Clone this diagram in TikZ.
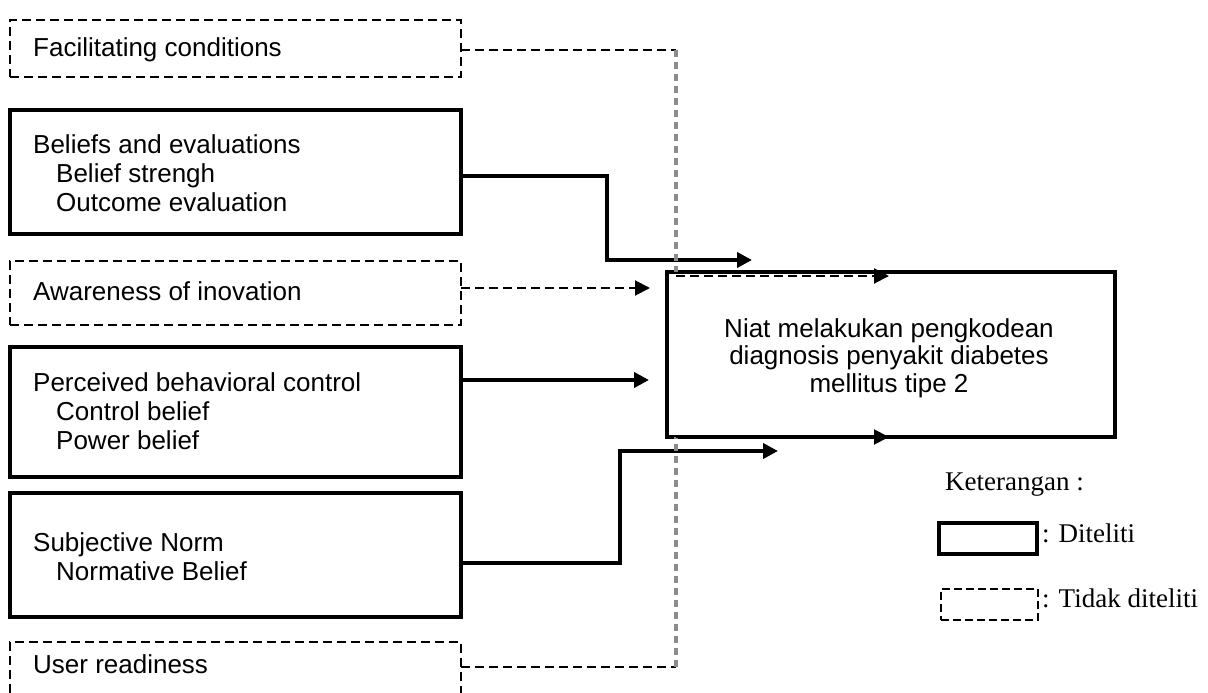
\documentclass[tikz,border=0pt]{standalone}
\usepackage{fontspec}
\setmainfont{Liberation Sans}
\newfontfamily\timesf{Liberation Serif}
\usetikzlibrary{arrows.meta}
\begin{document}
\begin{tikzpicture}[x=1pt,y=-1pt,
  solidbox/.style={draw, line width=4pt, inner sep=0pt, outer sep=0pt, anchor=north west},
  dashbox/.style={draw, line width=1.6pt, dash pattern=on 9pt off 5pt, inner sep=0pt, outer sep=0pt, anchor=north west},
  lbl/.style={anchor=base west, align=left, inner sep=0pt, font=\fontsize{26}{29}\selectfont},
  conn/.style={line width=4pt},
  dconn/.style={line width=2pt, dash pattern=on 9pt off 5pt},
  gconn/.style={line width=4pt, draw=black!45, dash pattern=on 7pt off 5pt},
  tip/.style={-{Triangle[length=15pt,width=15pt]}},
  legtxt/.style={anchor=base west, inner sep=0pt, font=\timesf\fontsize{27}{30}\selectfont},
]
\fill[white] (0,0) rectangle (1208,693);
\clip (0,0) rectangle (1208,693);

% boxes
\node[dashbox,  minimum width=451pt, minimum height=57pt]  (fac) at (10,20) {};
\node[solidbox, minimum width=451pt, minimum height=124pt] (bel) at (10,110) {};
\node[dashbox,  minimum width=451pt, minimum height=64pt]  (awa) at (10,261) {};
\node[solidbox, minimum width=451pt, minimum height=130pt] (per) at (10,347) {};
\node[solidbox, minimum width=451pt, minimum height=124pt] (sub) at (10,493) {};
\node[dashbox,  minimum width=451pt, minimum height=64pt]  (usr) at (10,642) {};
\node[solidbox, minimum width=448pt, minimum height=165pt] (tgt) at (667,272) {};

% labels (base anchor = baseline of the last line)
\node[lbl] (tfac) at (33,57) {Facilitating conditions};
\node[lbl] (tbel) at (33,211) {Beliefs and evaluations\\\hspace*{23pt}Belief strengh\\\hspace*{23pt}Outcome evaluation};
\node[lbl] (tawa) at (33,300) {Awareness of inovation};
\node[lbl] (tper) at (33,449) {Perceived behavioral control\\\hspace*{23pt}Control belief\\\hspace*{23pt}Power belief};
\node[lbl] (tsub) at (33,580) {Subjective Norm\\\hspace*{23pt}Normative Belief};
\node[lbl] (tusr) at (33,673) {User readiness};
\node[anchor=base, align=center, inner sep=0pt, font=\fontsize{26}{27.5}\selectfont] (ttgt) at (889,392)
  {Niat melakukan pengkodean\\diagnosis penyakit diabetes\\mellitus tipe 2};

% bend points and free ends
\coordinate (belBend) at (607,260);
\coordinate (belTip)  at (752,260);
\coordinate (awaTip)  at (650,288);
\coordinate (perTip)  at (649,380);
\coordinate (subBend) at (620,451);
\coordinate (subTip)  at (778,451);
\coordinate (facA) at (676,50);
\coordinate (facB) at (676,272);
\coordinate (facC) at (676,276);
\coordinate (facTip) at (889,276);
\coordinate (usrA) at (676,667);
\coordinate (usrB) at (676,437);
\coordinate (usrTip) at (889,437);

% connectors
\draw[conn,tip] ([yshift=-4pt]bel.east) -| (belBend) -- (belTip);
\draw[dconn,tip] ([yshift=5pt]awa.east) -- (awaTip);
\draw[conn,tip] ([yshift=32pt]per.east) -- (perTip);
\draw[conn,tip] ([yshift=-8pt]sub.east) -| (subBend) -- (subTip);

\draw[dconn] ([yshift=-1.5pt]fac.east) -- (facA);
\draw[gconn] (facA) -- (facB);
\draw[dconn,tip] (facC) -- (facTip);

\draw[dconn] ([yshift=7pt]usr.east) -- (usrA);
\draw[gconn] (usrA) -- (usrB);
\draw[dconn,tip] (usrB) -- (usrTip);

% legend
\node[legtxt] (ket) at (945,490) {Keterangan :};
\node[draw, line width=3.5pt, inner sep=0pt, outer sep=0pt, anchor=north west, minimum width=98pt, minimum height=31pt] (lsol) at (939,523) {};
\node[legtxt] (ldit) at (1042,542) {: Diteliti};
\node[draw, line width=1.5pt, dash pattern=on 8pt off 4pt, inner sep=0pt, outer sep=0pt, anchor=north west, minimum width=97pt, minimum height=31pt] (ldash) at (941,589) {};
\node[legtxt] (ltdk) at (1042,607) {: Tidak diteliti};
\end{tikzpicture}
\end{document}
